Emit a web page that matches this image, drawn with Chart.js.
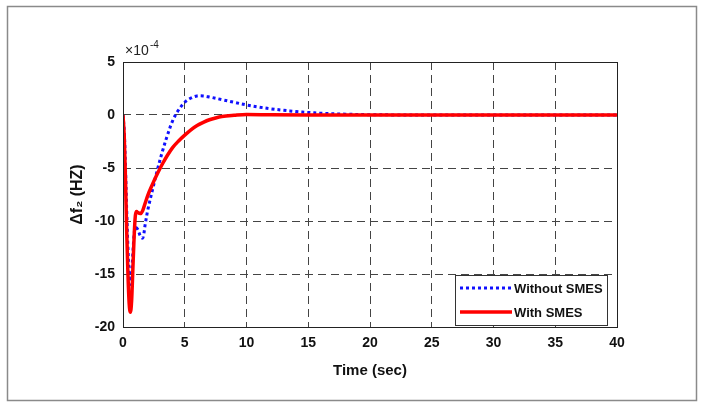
<!DOCTYPE html>
<html>
<head>
<meta charset="utf-8">
<script src="https://cdn.jsdelivr.net/npm/chart.js@4/dist/chart.umd.min.js"></script>
<style>
  html, body { margin: 0; padding: 0; background: #fff; }
  #wrap { width: 701px; height: 408px; }
</style>
</head>
<body>
<div id="wrap"><canvas id="freqChart" width="701" height="408"></canvas></div>
<script>
// time axis (sec) and deviation values (x1e-4 Hz)
const tWithout = [0,0.1,0.2,0.3,0.4,0.5,0.6,0.7,0.8,0.9,1.0,1.2,1.4,1.6,1.8,2.0,2.4,2.8,3.2,3.6,4.0,4.4,5.0,5.5,6.0,6.5,7.0,8,9,10,11,12,13,14,15,16,18,20,22,25,30,35,40];
const fWithout = [0,-1.5,-5,-9,-12.5,-15,-16,-15,-13,-11.3,-10.6,-10.8,-11.4,-11.6,-10.3,-9.0,-7.0,-5.1,-3.4,-1.9,-0.6,0.3,1.2,1.6,1.8,1.8,1.7,1.45,1.2,0.95,0.75,0.58,0.45,0.33,0.24,0.17,0.08,0.03,0.01,0,0,0,0];

const tWith = [0,0.1,0.2,0.3,0.4,0.5,0.6,0.7,0.8,0.9,1.0,1.1,1.2,1.4,1.6,1.8,2.0,2.4,2.8,3.2,3.6,4.0,4.5,5,5.5,6,6.5,7,7.5,8,9,10,12,15,20,25,30,35,40];
const fWith = [0,-2,-6,-11,-15,-17.8,-18.6,-17.5,-14.5,-11.5,-9.5,-9.1,-9.2,-9.3,-9.0,-8.3,-7.6,-6.5,-5.5,-4.6,-3.8,-3.1,-2.45,-1.9,-1.4,-1.0,-0.7,-0.45,-0.28,-0.15,-0.03,0.05,0.02,0,0,0,0,0,0];

const xTicks = [0,5,10,15,20,25,30,35,40];
const yTicks = [-20,-15,-10,-5,0,5];
const seriesNames = ['Without SMES', 'With SMES'];

const toPoints = (ts, vs) => ts.map((t, i) => ({ x: t, y: vs[i] }));

const FONT = '"Liberation Sans", Arial, sans-serif';

// outer frame, plot box, exponent label and legend box
const decorations = {
    id: 'decorations',
    beforeDraw(chart) {
        const c = chart.ctx;
        c.save();
        c.fillStyle = '#fff';
        c.fillRect(0, 0, chart.width, chart.height);
        c.strokeStyle = '#8a8a8a';
        c.lineWidth = 1.5;
        c.strokeRect(7.5, 6.5, 689, 394);
        c.restore();
    },
    afterDatasetsDraw(chart) {
        const c = chart.ctx;
        const a = chart.chartArea;
        c.save();
        c.strokeStyle = '#222';
        c.lineWidth = 1;
        c.strokeRect(a.left + 0.5, a.top + 0.5, a.right - a.left, a.bottom - a.top);

        // x10^-4
        c.fillStyle = '#222';
        c.font = '14px ' + FONT;
        c.textBaseline = 'alphabetic';
        c.fillText('\u00d710', a.left + 2, a.top - 7);
        c.font = '10px ' + FONT;
        c.fillText('-4', a.left + 27, a.top - 14);

        // legend
        const lx = 455, ly = 275, lw = 152, lh = 50;
        c.fillStyle = '#fff';
        c.fillRect(lx, ly, lw, lh);
        c.strokeStyle = '#333';
        c.strokeRect(lx + 0.5, ly + 0.5, lw, lh);
        c.font = 'bold 13px ' + FONT;
        c.textBaseline = 'middle';
        chart.data.datasets.forEach((ds, i) => {
            const y = ly + 13 + i * 24;
            c.strokeStyle = ds.borderColor;
            c.lineWidth = ds.borderWidth;
            c.setLineDash(ds.borderDash || []);
            c.beginPath();
            c.moveTo(lx + 5, y);
            c.lineTo(lx + 57, y);
            c.stroke();
            c.setLineDash([]);
            c.fillStyle = '#111';
            c.fillText(ds.label, lx + 59, y + 1);
        });
        c.restore();
    }
};

const ctx = document.getElementById('freqChart').getContext('2d');
const freqChart = new Chart(ctx, {
    type: 'line',
    data: {
        datasets: [{
            label: seriesNames[0],
            data: toPoints(tWithout, fWithout),
            borderColor: '#1010ff',
            borderWidth: 3,
            borderDash: [3, 3],
            pointRadius: 0,
            tension: 0.35,
            order: 2
        }, {
            label: seriesNames[1],
            data: toPoints(tWith, fWith),
            borderColor: '#ff0000',
            borderWidth: 3.5,
            pointRadius: 0,
            cubicInterpolationMode: 'monotone',
            order: 1
        }]
    },
    options: {
        responsive: false,
        animation: false,
        layout: { padding: { left: 0, right: 84, top: 62, bottom: 0 } },
        plugins: {
            legend: { display: false },
            tooltip: { enabled: false }
        },
        scales: {
            x: {
                type: 'linear',
                min: 0,
                max: 40,
                afterBuildTicks: s => { s.ticks = xTicks.map(v => ({ value: v })); },
                afterFit: s => { s.height = 81; },
                grid: { color: '#444', lineWidth: 1, drawTicks: false },
                border: { display: false, dash: [8, 5] },
                ticks: { color: '#111', padding: 8, font: { family: FONT, size: 14, weight: 'bold' } },
                title: {
                    display: true,
                    text: 'Time (sec)',
                    color: '#111',
                    padding: { top: 4, bottom: 28 },
                    font: { family: FONT, size: 15, weight: 'bold' }
                }
            },
            y: {
                min: -20,
                max: 5,
                afterBuildTicks: s => { s.ticks = yTicks.map(v => ({ value: v })); },
                afterFit: s => { s.width = 123; },
                grid: { color: '#444', lineWidth: 1, drawTicks: false },
                border: { display: false, dash: [8, 5] },
                ticks: { color: '#111', padding: 8, font: { family: FONT, size: 14, weight: 'bold' } },
                title: {
                    display: true,
                    text: '\u0394f\u2082 (HZ)',
                    color: '#111',
                    padding: { top: 68, bottom: 8 },
                    font: { family: FONT, size: 16, weight: 'bold' }
                }
            }
        }
    },
    plugins: [decorations]
});
</script>
</body>
</html>
